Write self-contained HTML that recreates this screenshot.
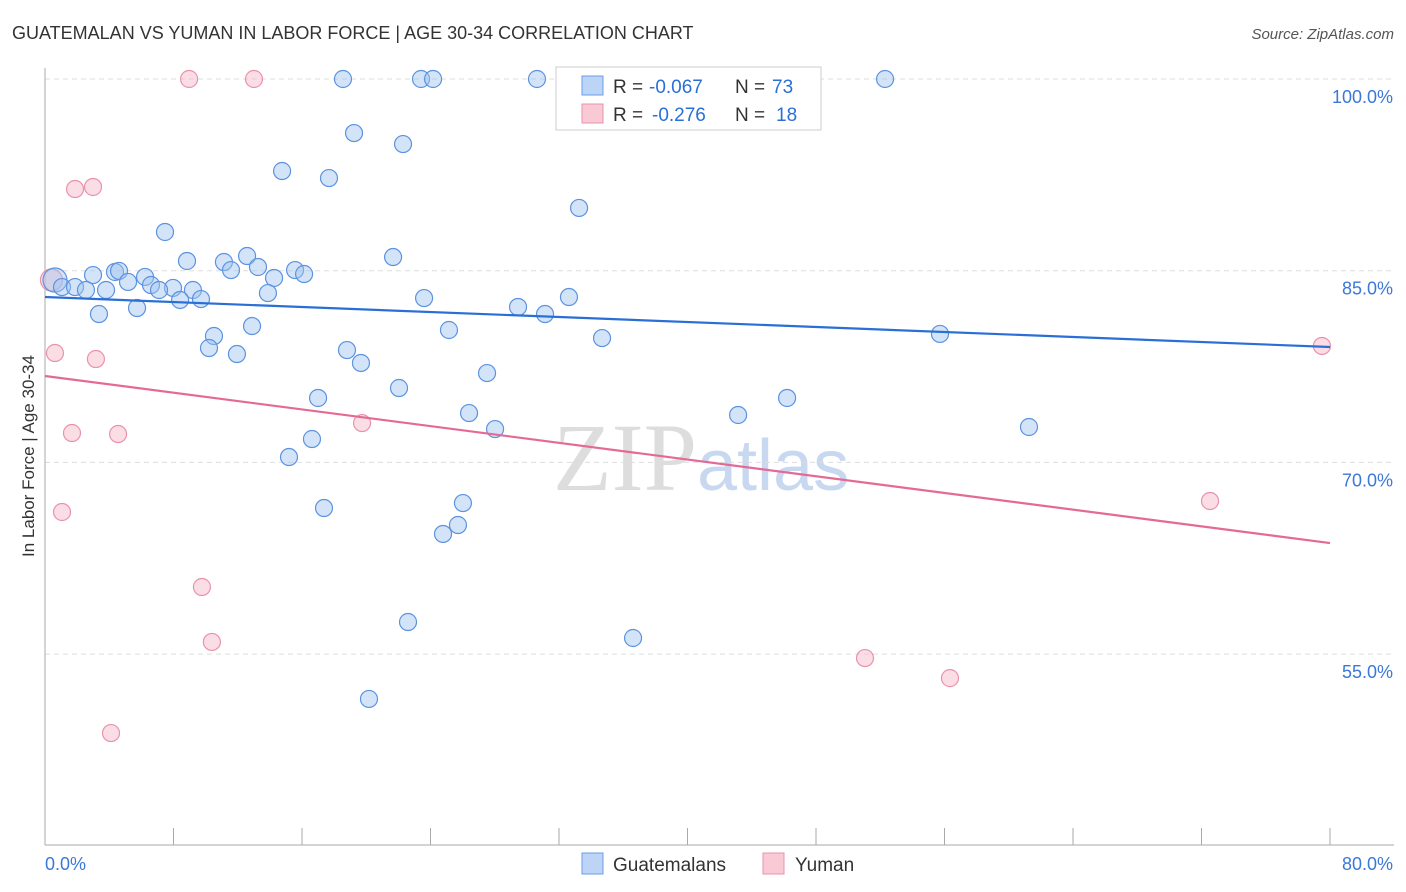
<!DOCTYPE html>
<html><head><meta charset="utf-8"><style>
body{margin:0;background:#fff;font-family:"Liberation Sans",sans-serif}
svg{display:block}
</style></head><body>
<svg id="c" width="1406" height="892">
<text x="12" y="39" font-size="18" fill="#333">GUATEMALAN VS YUMAN IN LABOR FORCE | AGE 30-34 CORRELATION CHART</text>
<text x="1394" y="39" font-size="15" fill="#555" font-style="italic" text-anchor="end">Source: ZipAtlas.com</text>
<text x="34" y="456" font-size="17" fill="#333" text-anchor="middle" transform="rotate(-90 34 456)">In Labor Force | Age 30-34</text>
<text x="553" y="490" font-size="96" fill="#ddd" font-family="Liberation Serif">ZIP<tspan fill="#c8d8f0" font-family="Liberation Sans" font-size="72">atlas</tspan></text>
<g id="grid"></g><g id="marks"></g>
<g>
<rect x="556" y="67" width="265" height="63" fill="#fff" stroke="#ccc"/>
<rect x="582" y="76" width="21" height="19" fill="#bcd4f6" stroke="#6a9ee8"/>
<rect x="582" y="104" width="21" height="19" fill="#f9c9d6" stroke="#ea92ac"/>
<text x="613" y="93" font-size="19" fill="#333">R =</text>
<text x="649" y="93" font-size="19" fill="#2a6fd6">-0.067</text>
<text x="735" y="93" font-size="19" fill="#333">N =</text>
<text x="772" y="93" font-size="19" fill="#2a6fd6">73</text>
<text x="613" y="121" font-size="19" fill="#333">R =</text>
<text x="652" y="121" font-size="19" fill="#2a6fd6">-0.276</text>
<text x="735" y="121" font-size="19" fill="#333">N =</text>
<text x="776" y="121" font-size="19" fill="#2a6fd6">18</text>
</g>
<g>
<rect x="582" y="853" width="21" height="21" fill="#bcd4f6" stroke="#6a9ee8"/>
<text x="613" y="871" font-size="19" fill="#333">Guatemalans</text>
<rect x="763" y="853" width="21" height="21" fill="#f9c9d6" stroke="#ea92ac"/>
<text x="795" y="871" font-size="19" fill="#333">Yuman</text>
</g>
</svg>
<script>
const blueX=[0.62,18.55,23.41,24.16,30.63,38.42,43.46,52.30,19.24,22.29,14.76,17.68,33.25,7.47,8.84,11.14,12.58,21.67,13.26,11.58,15.57,16.13,14.26,2.99,4.36,4.61,6.23,5.17,1.06,1.87,2.55,3.80,6.60,7.97,9.21,7.10,13.88,8.41,9.71,5.73,3.36,23.60,29.45,31.13,32.62,12.89,10.52,10.21,11.95,25.15,34.68,55.72,18.80,19.67,27.52,22.04,17.00,26.40,43.15,46.20,28.02,61.26,16.62,15.19,17.37,26.02,25.71,24.78,22.60,36.61,20.17];
const blueY=[84.27,100,100,100,100,100,100,100,95.77,94.91,92.80,92.25,89.91,88.03,85.76,85.68,86.15,86.07,85.29,85.05,85.05,84.74,84.43,84.66,84.90,84.98,84.51,84.12,83.72,83.72,83.49,83.49,83.88,83.65,83.49,83.49,83.25,82.71,82.78,82.08,81.61,82.86,82.16,81.61,82.94,80.67,79.89,78.95,78.48,80.36,79.73,80.05,78.79,77.78,76.99,75.82,75.04,73.86,73.71,75.04,72.61,72.77,71.83,70.42,66.43,66.82,65.10,64.40,57.51,56.26,51.49];
const pinkX=[0.4,0.62,8.97,13.01,1.87,2.99,3.17,1.68,4.55,1.06,9.77,10.39,4.11,19.74,51.05,56.34,79.50,72.53];
const pinkY=[84.27,78.56,100,100,91.39,91.55,78.09,72.30,72.22,66.12,60.25,55.95,48.82,73.08,54.69,53.12,79.11,66.98];
const blueTrend=[82.94,79.03];
const pinkTrend=[76.76,63.69];
const yTicks=[100,85,70,55];
const yTickLabels=["100.0%","85.0%","70.0%","55.0%"];
const xTickVals=[0,8,16,24,32,40,48,56,64,72,80];
const NS="http://www.w3.org/2000/svg";
const X=v=>45+v/80*1285, Y=v=>79+(100-v)/15*191.7;
function mk(t,a,p){const e=document.createElementNS(NS,t);for(const k in a)e.setAttribute(k,a[k]);p.appendChild(e);return e;}
const g=document.getElementById('grid'),m=document.getElementById('marks');
yTicks.forEach((v,i)=>{
 const l=mk('line',{x1:45,x2:1394,y1:Y(v),y2:Y(v),stroke:'#ddd','stroke-dasharray':'5,4'},g);
 
 
 const t=mk('text',{x:1393,y:Y(v)+24,'font-size':18,fill:'#3b78d8','text-anchor':'end'},g);t.textContent=yTickLabels[i];
 
 
});
const ax=mk('line',{x1:45,x2:45,y1:68,y2:845,stroke:'#aaa'},g);


const bx=mk('line',{x1:45,x2:1394,y1:845,y2:845,stroke:'#aaa'},g);


xTickVals.forEach(v=>{const t=mk('line',{x1:X(v),x2:X(v),y1:828,y2:845,stroke:'#aaa'},g);
 
 });
let t1=mk('text',{x:45,y:870,'font-size':18,fill:'#3b78d8'},g);t1.textContent='0.0%';


let t2=mk('text',{x:1393,y:870,'font-size':18,fill:'#3b78d8','text-anchor':'end'},g);t2.textContent='80.0%';


pinkX.forEach((v,i)=>{const c=mk('circle',{cx:X(v),cy:Y(pinkY[i]),r:i==0?11:8.5,fill:'rgba(246,180,200,0.45)',stroke:'#ea92ac','stroke-width':1.2},m);
 
 });
blueX.forEach((v,i)=>{const c=mk('circle',{cx:X(v),cy:Y(blueY[i]),r:i==0?12:8.5,fill:'rgba(160,196,240,0.45)',stroke:'#5b93e0','stroke-width':1.2},m);
 
 });
const bl=mk('line',{x1:X(0),x2:X(80),y1:Y(blueTrend[0]),y2:Y(blueTrend[1]),stroke:'#2a6fd6','stroke-width':2.2},m);


const pl=mk('line',{x1:X(0),x2:X(80),y1:Y(pinkTrend[0]),y2:Y(pinkTrend[1]),stroke:'#e46a95','stroke-width':2.2},m);


</script>
</body></html>
